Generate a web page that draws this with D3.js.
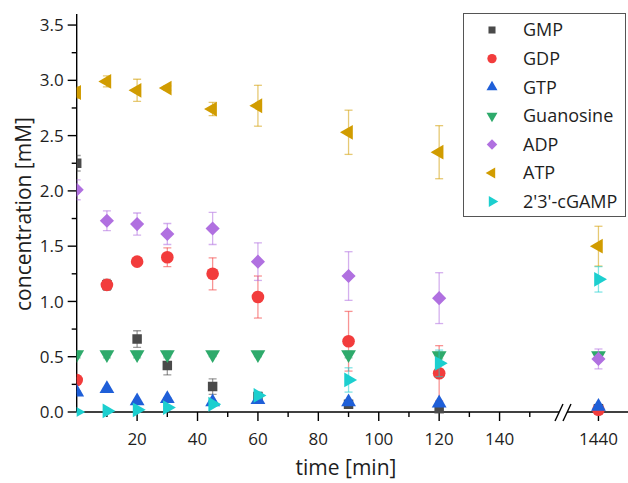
<!DOCTYPE html>
<html><head><meta charset="utf-8">
<script src="https://cdn.jsdelivr.net/npm/d3@7"></script>
<style>body{margin:0;background:#fff}svg{display:block}</style>
</head><body>
<svg id="c" width="628" height="483"></svg>
<script>
const times = [0,10,20,30,45,60,90,120,1440];
const seriesNames = ["GMP","GDP","GTP","Guanosine","ADP","ATP","2'3'-cGAMP"];
const GMP = [2.25,1.15,0.66,0.42,0.23,0.14,0.07,0.03,0.03];
const GMP_err = [0.07,0.05,0.075,0.085,0.07,0.03,0.02,0.01,0.01];
const GDP = [0.29,1.15,1.36,1.40,1.25,1.04,0.64,0.35,0.02];
const GDP_err = [0.02,0.03,0.02,0.085,0.145,0.19,0.27,0.25,0.01];
const GTP = [0.18,0.21,0.10,0.12,0.09,0.11,0.09,0.08,0.05];
const GTP_err = [0.01,0.01,0.01,0.01,0.01,0.01,0.01,0.01,0.01];
const Guanosine = [0.52,0.52,0.52,0.52,0.52,0.52,0.52,0.51,0.51];
const Guanosine_err = [0.03,0.03,0.03,0.03,0.02,0.02,0.03,0.03,0.03];
const ADP = [2.01,1.73,1.70,1.61,1.66,1.36,1.23,1.03,0.48];
const ADP_err = [0.09,0.09,0.10,0.095,0.145,0.17,0.22,0.23,0.09];
const ATP = [2.89,2.99,2.91,2.93,2.74,2.77,2.53,2.35,1.50];
const ATP_err = [0.05,0.05,0.10,0.02,0.06,0.185,0.20,0.24,0.18];
const cGAMP = [0.00,0.01,0.02,0.04,0.07,0.15,0.29,0.44,1.20];
const cGAMP_err = [0.005,0.01,0.01,0.01,0.02,0.03,0.11,0.12,0.115];
const xMajor = [20,40,60,80,100,120,140];
const xMinor = [10,30,50,70,90,110,130,150];
const xMajor2 = [1440];
const yMajor = [0,0.5,1,1.5,2,2.5,3,3.5];

const values = [GMP,GDP,GTP,Guanosine,ADP,ATP,cGAMP];
const errors = [GMP_err,GDP_err,GTP_err,Guanosine_err,ADP_err,ATP_err,cGAMP_err];
const colors = ["#4a4a4a","#f23c3c","#1f5fd8","#2eaa6b","#b070e0","#d19c00","#1ccfcf"];
const shapes = [
  {t:d3.symbolSquare, r:0, s:90},
  {t:d3.symbolCircle, r:0, s:125},
  {t:d3.symbolTriangle, r:0, s:95},
  {t:d3.symbolTriangle, r:180, s:95},
  {t:d3.symbolSquare, r:45, s:100},
  {t:d3.symbolTriangle, r:-90, s:95},
  {t:d3.symbolTriangle, r:90, s:95}
];

const svg = d3.select("#c");
const font = "'Open Sans', sans-serif";
const txt = "#1e1e1e";
const x0 = 76.7, yBase = 412, yTopPx = 14;
const brk = 563;
const x1 = d3.scaleLinear().domain([0,161]).range([x0, brk]);
const x2 = d3.scaleLinear().domain([1428,1450]).range([brk, 628]);
const xs = t => t > 500 ? x2(t) : x1(t);
const y = d3.scaleLinear().domain([0,3.6]).range([yBase, yTopPx]);

svg.append("defs").append("clipPath").attr("id","clip")
  .append("rect").attr("x",x0).attr("y",0).attr("width",628-x0).attr("height",483);

const ax = svg.append("g").attr("stroke","#000").attr("stroke-width",1.4);
ax.append("line").attr("x1",x0).attr("x2",x0).attr("y1",y(3.6)).attr("y2",yBase);
ax.append("line").attr("x1",x0).attr("x2",brk-4).attr("y1",yBase).attr("y2",yBase);
ax.append("line").attr("x1",brk+4).attr("x2",628).attr("y1",yBase).attr("y2",yBase);
[-4,4].forEach(o=>{
  ax.append("line").attr("x1",brk+o-4).attr("y1",yBase+9).attr("x2",brk+o+4).attr("y2",yBase-8);
});
yMajor.forEach(v=>{
  ax.append("line").attr("x1",x0-9).attr("x2",x0).attr("y1",y(v)).attr("y2",y(v));
  svg.append("text").attr("x",x0-13).attr("y",y(v)).attr("dy","0.36em").attr("text-anchor","end")
    .attr("font-family",font).attr("font-size",17).attr("fill",txt).text(d3.format(".1f")(v));
});
d3.range(0.25,3.6,0.5).forEach(v=>{
  ax.append("line").attr("x1",x0-5).attr("x2",x0).attr("y1",y(v)).attr("y2",y(v));
});
xMajor.forEach(v=>{
  ax.append("line").attr("x1",x1(v)).attr("x2",x1(v)).attr("y1",yBase).attr("y2",yBase+9);
  svg.append("text").attr("x",x1(v)).attr("y",yBase+33).attr("text-anchor","middle")
    .attr("font-family",font).attr("font-size",17).attr("fill",txt).text(v);
});
xMinor.forEach(v=>{
  ax.append("line").attr("x1",x1(v)).attr("x2",x1(v)).attr("y1",yBase).attr("y2",yBase+5);
});
xMajor2.forEach(v=>{
  ax.append("line").attr("x1",x2(v)).attr("x2",x2(v)).attr("y1",yBase).attr("y2",yBase+9);
  svg.append("text").attr("x",x2(v)).attr("y",yBase+33).attr("text-anchor","middle")
    .attr("font-family",font).attr("font-size",17).attr("fill",txt).text(v);
});
svg.append("text").attr("x",346).attr("y",475).attr("text-anchor","middle")
  .attr("font-family",font).attr("font-size",21).attr("fill",txt).text("time [min]");
svg.append("text").attr("transform","translate(31,214) rotate(-90)").attr("text-anchor","middle")
  .attr("font-family",font).attr("font-size",21).attr("fill",txt).text("concentration [mM]");

const plot = svg.append("g").attr("clip-path","url(#clip)");
values.forEach((vals,si)=>{
  const g = plot.append("g");
  const data = times.map((t,i)=>({t, v:vals[i], e:errors[si][i]}));
  const eb = g.append("g").attr("stroke",colors[si]).attr("stroke-opacity",0.55).attr("stroke-width",1.3);
  data.forEach(d=>{
    const cx = xs(d.t);
    eb.append("line").attr("x1",cx).attr("x2",cx).attr("y1",y(d.v+d.e)).attr("y2",y(d.v-d.e));
    eb.append("line").attr("x1",cx-4).attr("x2",cx+4).attr("y1",y(d.v+d.e)).attr("y2",y(d.v+d.e));
    eb.append("line").attr("x1",cx-4).attr("x2",cx+4).attr("y1",y(d.v-d.e)).attr("y2",y(d.v-d.e));
  });
  const sh = shapes[si];
  g.selectAll("path.m").data(data).join("path").attr("class","m")
    .attr("d", d3.symbol().type(sh.t).size(sh.s))
    .attr("transform", d=>`translate(${xs(d.t)},${y(d.v)}) rotate(${sh.r})`)
    .attr("fill", colors[si]);
});

const lg = svg.append("g");
lg.append("rect").attr("x",463.5).attr("y",13.5).attr("width",162).attr("height",203)
  .attr("fill","#fff").attr("stroke","#555").attr("stroke-width",1);
seriesNames.forEach((n,i)=>{
  const yy = 30 + i*28.6;
  const sh = shapes[i];
  lg.append("path").attr("d", d3.symbol().type(sh.t).size(sh.s*0.55)())
    .attr("transform",`translate(492,${yy}) rotate(${sh.r})`).attr("fill",colors[i]);
  lg.append("text").attr("x",523).attr("y",yy).attr("dy","0.36em")
    .attr("font-family",font).attr("font-size",18).attr("fill",txt).text(n);
});
</script>
</body></html>
